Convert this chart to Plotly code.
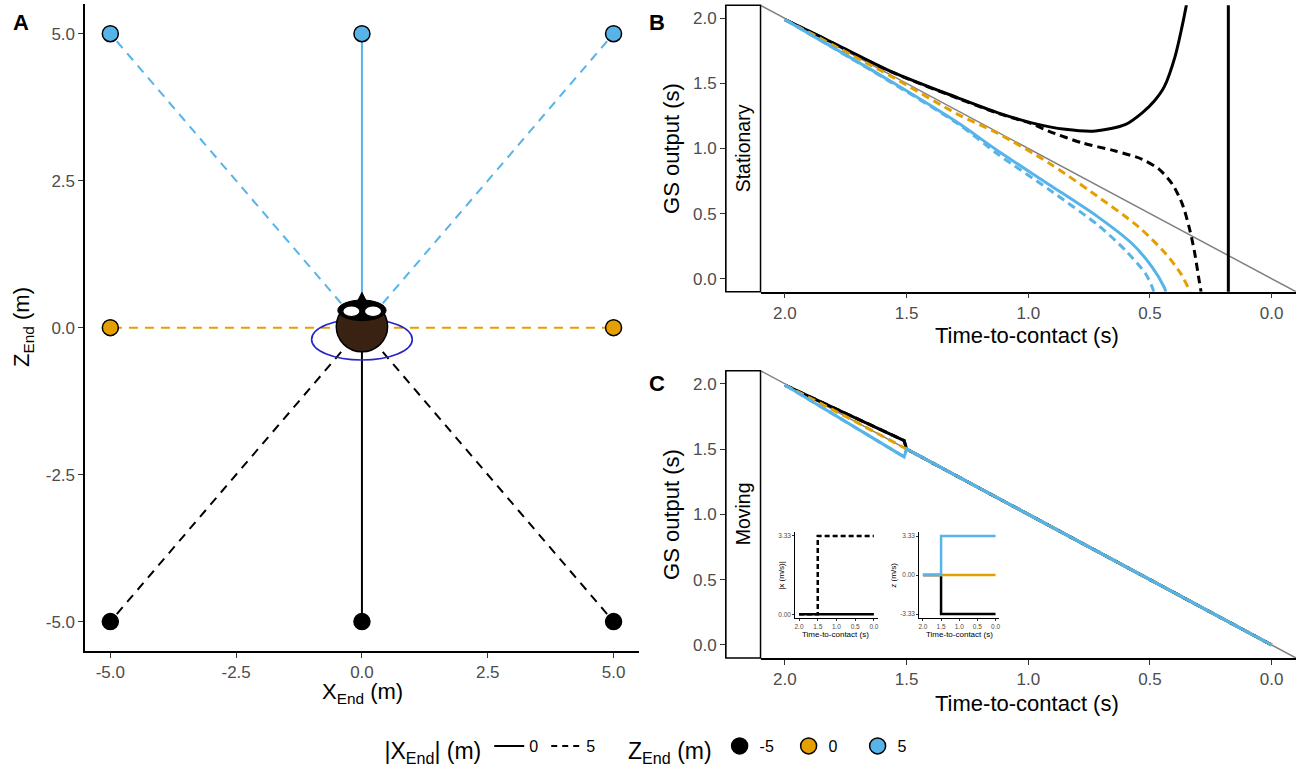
import plotly.graph_objects as go

# ---- panel A: end positions of the approaching object (m) ----
x_end = [-5, 0, 5, -5, 5, -5, 0, 5]
z_end = [5, 5, 5, 0, 0, -5, -5, -5]
observer = [0, 0]
z_colours = {-5: "#000000", 0: "#E69F00", 5: "#56B4E9"}

# ---- panel B: stationary observer, GS output (s) vs time-to-contact (s) ----
ref_line = [2.1, -0.1]

b_black_solid_ttc = [2.0, 1.84, 1.565, 1.289, 1.124, 0.986, 0.848, 0.724, 0.6, 0.532,
                     0.483, 0.441, 0.397, 0.368, 0.35]
b_black_solid_gs = [1.99, 1.847, 1.593, 1.389, 1.274, 1.197, 1.147, 1.134, 1.185, 1.274,
                    1.363, 1.475, 1.706, 1.938, 2.105]
# where the solid black curve jumps back from +inf to -inf
b_black_asym_ttc = [0.178, 0.178]
b_black_asym_gs = [60, -60]

b_black_dash_ttc = [2.0, 1.84, 1.565, 1.289, 1.124, 0.986, 0.917, 0.78, 0.642, 0.532,
                    0.463, 0.408, 0.367, 0.339, 0.318, 0.298, 0.29]
b_black_dash_gs = [1.99, 1.845, 1.59, 1.385, 1.27, 1.19, 1.134, 1.044, 0.981, 0.917,
                   0.841, 0.726, 0.573, 0.395, 0.216, -0.013, -0.1]

b_orange_dash_ttc = [2.0, 1.565, 1.289, 1.124, 0.917, 0.738, 0.545, 0.435, 0.373, 0.335]
b_orange_dash_gs = [1.99, 1.556, 1.262, 1.115, 0.891, 0.662, 0.395, 0.191, 0.038, -0.1]

b_blue_solid_ttc = [2.0, 1.565, 1.289, 1.124, 0.917, 0.711, 0.573, 0.491, 0.442, 0.435]
b_blue_solid_gs = [1.99, 1.516, 1.197, 0.981, 0.726, 0.471, 0.268, 0.089, -0.064, -0.1]

b_blue_dash_ttc = [2.0, 1.565, 1.289, 1.124, 0.917, 0.711, 0.6, 0.518, 0.491, 0.485]
b_blue_dash_gs = [1.99, 1.51, 1.19, 0.955, 0.688, 0.407, 0.216, 0.038, -0.064, -0.1]

# ---- panel C: moving object (direction change at 1.5 s) ----
c_ttc = [2.0, 1.75, 1.51, 1.5, 0.0]
c_black_gs = [1.99, 1.775, 1.565, 1.5, 0.0]
c_orange_gs = [1.99, 1.75, 1.51, 1.5, 0.0]
c_blue_gs = [1.99, 1.71, 1.44, 1.5, 0.0]

# ---- insets: lateral / depth speed (m/s) ----
inset_ttc = [2.0, 1.5, 1.5, 0.0]
xdot_solid = [0, 0, 0, 0]
xdot_dash = [0, 0, 3.33, 3.33]
zdot_black = [0, 0, -3.33, -3.33]
zdot_orange = [0, 0, 0, 0]
zdot_blue = [0, 0, 3.33, 3.33]

ttc_ticks = [2.0, 1.5, 1.0, 0.5, 0.0]
ttc_labels = ["2.0", "1.5", "1.0", "0.5", "0.0"]
gs_ticks = [0.0, 0.5, 1.0, 1.5, 2.0]
gs_labels = ["0.0", "0.5", "1.0", "1.5", "2.0"]
pos_ticks = [-5, -2.5, 0, 2.5, 5]
pos_labels = ["-5.0", "-2.5", "0.0", "2.5", "5.0"]

W, H = 1300, 770
FONT = "Liberation Sans"
DASH_A = "9px,7px"
DASH_B = "8px,5px"
TITLE_SIZE = 22
TICK_SIZE = 17


def px(v):
    return v / W


def py(v):
    return 1 - v / H


fig = go.Figure()

# panel A lines and points
for xe, ze in zip(x_end, z_end):
    fig.add_trace(go.Scatter(
        x=[observer[0], xe], y=[observer[1], ze], mode="lines",
        line=dict(color=z_colours[ze], width=2, dash="solid" if xe == 0 else DASH_A),
        showlegend=False, hoverinfo="skip", xaxis="x", yaxis="y"))
fig.add_trace(go.Scatter(
    x=x_end, y=z_end, mode="markers",
    marker=dict(size=16, color=[z_colours[z] for z in z_end], line=dict(color="black", width=1.5)),
    showlegend=False, xaxis="x", yaxis="y"))

# panel B
fig.add_trace(go.Scatter(x=ref_line, y=ref_line, mode="lines", line=dict(color="#808080", width=1.5),
                         showlegend=False, xaxis="x2", yaxis="y2"))
b_curves = [
    (b_black_solid_ttc, b_black_solid_gs, "#000000", "solid"),
    (b_black_asym_ttc, b_black_asym_gs, "#000000", "solid"),
    (b_black_dash_ttc, b_black_dash_gs, "#000000", DASH_B),
    (b_orange_dash_ttc, b_orange_dash_gs, "#E69F00", DASH_B),
    (b_blue_solid_ttc, b_blue_solid_gs, "#56B4E9", "solid"),
    (b_blue_dash_ttc, b_blue_dash_gs, "#56B4E9", DASH_B),
]
for t, g, c, d in b_curves:
    fig.add_trace(go.Scatter(x=t, y=g, mode="lines",
                             line=dict(color=c, width=3, dash=d, shape="spline", smoothing=0.8),
                             showlegend=False, xaxis="x2", yaxis="y2"))

# panel C
fig.add_trace(go.Scatter(x=ref_line, y=ref_line, mode="lines", line=dict(color="#808080", width=1.5),
                         showlegend=False, xaxis="x3", yaxis="y3"))
c_curves = [
    (c_black_gs, "#000000", "solid"),
    (c_black_gs, "#000000", DASH_B),
    (c_orange_gs, "#E69F00", DASH_B),
    (c_blue_gs, "#56B4E9", "solid"),
    (c_blue_gs, "#56B4E9", DASH_B),
]
for g, c, d in c_curves:
    fig.add_trace(go.Scatter(x=c_ttc, y=g, mode="lines", line=dict(color=c, width=3, dash=d),
                             showlegend=False, xaxis="x3", yaxis="y3"))

# insets
fig.add_trace(go.Scatter(x=inset_ttc, y=xdot_solid, mode="lines", line=dict(color="black", width=2.5),
                         showlegend=False, xaxis="x4", yaxis="y4"))
fig.add_trace(go.Scatter(x=inset_ttc, y=xdot_dash, mode="lines",
                         line=dict(color="black", width=2.5, dash="5px,3px"),
                         showlegend=False, xaxis="x4", yaxis="y4"))
for vals, c in [(zdot_black, "#000000"), (zdot_orange, "#E69F00"), (zdot_blue, "#56B4E9")]:
    fig.add_trace(go.Scatter(x=inset_ttc, y=vals, mode="lines", line=dict(color=c, width=2.5),
                             showlegend=False, xaxis="x5", yaxis="y5"))

# legend entries
fig.add_trace(go.Scatter(x=[None], y=[None], mode="lines", name="0", line=dict(color="black", width=2),
                         legend="legend", xaxis="x", yaxis="y"))
fig.add_trace(go.Scatter(x=[None], y=[None], mode="lines", name="5",
                         line=dict(color="black", width=2, dash="6px,5px"),
                         legend="legend", xaxis="x", yaxis="y"))
for z in [-5, 0, 5]:
    fig.add_trace(go.Scatter(x=[None], y=[None], mode="markers", name=str(z),
                             marker=dict(size=16, color=z_colours[z], line=dict(color="black", width=1.5)),
                             legend="legend2", xaxis="x", yaxis="y"))


def ax(**kw):
    base = dict(showline=True, linecolor="black", linewidth=1.5, ticks="outside", ticklen=5,
                tickwidth=1.2, tickcolor="#333333", showgrid=False, zeroline=False,
                tickfont=dict(size=TICK_SIZE, color="#4d4d4d", family=FONT))
    base.update(kw)
    return base


def inset_ax(**kw):
    base = ax(linewidth=1, ticklen=2, tickwidth=0.8, tickfont=dict(size=6.5, color="#4d4d4d", family=FONT))
    base.update(kw)
    return base


b_dom = [py(291.7), py(5.3)]
c_dom = [py(658), py(370.7)]
strip_x = [px(726), px(760.7)]

shapes = [
    # observer head
    dict(type="circle", xref="x", yref="y", x0=-1, x1=1, y0=-0.55, y1=0.15,
         line=dict(color="#2424c8", width=1.6), layer="above"),
    dict(type="path", xref="x", yref="y", path="M -0.12 0.4 L 0 0.6 L 0.12 0.4 Z",
         fillcolor="black", line=dict(color="black", width=1), layer="above"),
    dict(type="circle", xref="x", yref="y", x0=-0.51, x1=0.51, y0=-0.41, y1=0.45,
         fillcolor="#3a2213", line=dict(color="black", width=1.5), layer="above"),
    dict(type="circle", xref="x", yref="y", x0=-0.48, x1=0.48, y0=0.12, y1=0.47,
         fillcolor="black", line=dict(color="black", width=1), layer="above"),
    dict(type="circle", xref="x", yref="y", x0=-0.38, x1=-0.04, y0=0.19, y1=0.37,
         fillcolor="white", line=dict(color="black", width=1.2), layer="above"),
    dict(type="circle", xref="x", yref="y", x0=0.05, x1=0.39, y0=0.19, y1=0.37,
         fillcolor="white", line=dict(color="black", width=1.2), layer="above"),
    # facet strips
    dict(type="rect", xref="paper", yref="paper", x0=strip_x[0], x1=strip_x[1], y0=b_dom[0], y1=b_dom[1],
         fillcolor="white", line=dict(color="black", width=1.5), layer="above"),
    dict(type="rect", xref="paper", yref="paper", x0=strip_x[0], x1=strip_x[1], y0=c_dom[0], y1=c_dom[1],
         fillcolor="white", line=dict(color="black", width=1.5), layer="above"),
]


def note(text, x, y, size, angle=0, bold=False, color="black"):
    if bold:
        text = "<b>" + text + "</b>"
    return dict(text=text, x=px(x), y=py(y), xref="paper", yref="paper", showarrow=False,
                xanchor="center", yanchor="middle", textangle=angle,
                font=dict(size=size, color=color, family=FONT))


annotations = [
    note("A", 20, 22, 22, bold=True),
    note("B", 657, 22, 22, bold=True),
    note("C", 657, 384, 22, bold=True),
    note("X<sub>End</sub> (m)", 362, 693, TITLE_SIZE),
    note("Z<sub>End</sub> (m)", 22, 327, TITLE_SIZE, angle=-90),
    note("GS output (s)", 671, 148, TITLE_SIZE, angle=-90),
    note("GS output (s)", 671, 514, TITLE_SIZE, angle=-90),
    note("Time-to-contact (s)", 1028, 336, TITLE_SIZE),
    note("Time-to-contact (s)", 1028, 703, TITLE_SIZE),
    note("Stationary", 743.5, 148, 19.5, angle=-90),
    note("Moving", 743.5, 514, 19.5, angle=-90),
    note("|x (m/s)|", 781, 575, 8, angle=-90),
    note("Time-to-contact (s)", 836, 634, 8),
    note("z (m/s)", 893, 575, 8, angle=-90),
    note("Time-to-contact (s)", 960, 634, 8),
]

fig.update_layout(
    width=W, height=H, margin=dict(l=0, r=0, t=0, b=0),
    paper_bgcolor="white", plot_bgcolor="white",
    font=dict(family=FONT, color="black"),
    xaxis=ax(domain=[px(84.3), px(638.7)], range=[-5.5, 5.5], anchor="y",
             tickvals=pos_ticks, ticktext=pos_labels),
    yaxis=ax(domain=[py(651), py(4.3)], range=[-5.5, 5.5], anchor="x",
             tickvals=pos_ticks, ticktext=pos_labels),
    xaxis2=ax(domain=[px(760.7), px(1297)], range=[2.1, -0.1], anchor="y2",
              tickvals=ttc_ticks, ticktext=ttc_labels),
    yaxis2=ax(domain=b_dom, range=[-0.1, 2.1], anchor="free", position=strip_x[0],
              tickvals=gs_ticks, ticktext=gs_labels),
    xaxis3=ax(domain=[px(760.7), px(1297)], range=[2.1, -0.1], anchor="y3",
              tickvals=ttc_ticks, ticktext=ttc_labels),
    yaxis3=ax(domain=c_dom, range=[-0.1, 2.1], anchor="free", position=strip_x[0],
              tickvals=gs_ticks, ticktext=gs_labels),
    xaxis4=inset_ax(domain=[px(795.5), px(878)], range=[2.1, -0.1], anchor="y4",
                    tickvals=ttc_ticks, ticktext=ttc_labels),
    yaxis4=inset_ax(domain=[py(618.2), py(532)], range=[-0.1665, 3.4965], anchor="x4",
                    tickvals=[0, 3.33], ticktext=["0.00", "3.33"]),
    xaxis5=inset_ax(domain=[px(919.7), px(999.7)], range=[2.1, -0.1], anchor="y5",
                    tickvals=ttc_ticks, ticktext=ttc_labels),
    yaxis5=inset_ax(domain=[py(617.9), py(532.1)], range=[-3.663, 3.663], anchor="x5",
                    tickvals=[-3.33, 0, 3.33], ticktext=["-3.33", "0.00", "3.33"]),
    legend=dict(orientation="h", x=px(382), y=py(749), xanchor="left", yanchor="middle",
                title=dict(text="|X<sub>End</sub>| (m)", side="left", font=dict(size=23)),
                font=dict(size=16), bgcolor="rgba(0,0,0,0)", itemwidth=30, entrywidth=12),
    legend2=dict(orientation="h", x=px(626), y=py(749), xanchor="left", yanchor="middle",
                 title=dict(text="Z<sub>End</sub> (m)", side="left", font=dict(size=23)),
                 font=dict(size=16), bgcolor="rgba(0,0,0,0)", itemwidth=30, entrywidth=24),
    shapes=shapes,
    annotations=annotations,
)

# the page body has a default 8px margin; drop it so the figure fills the window exactly
fig.write_html("out.html", config={"displayModeBar": False},
               post_script="document.body.style.margin='0px';")
